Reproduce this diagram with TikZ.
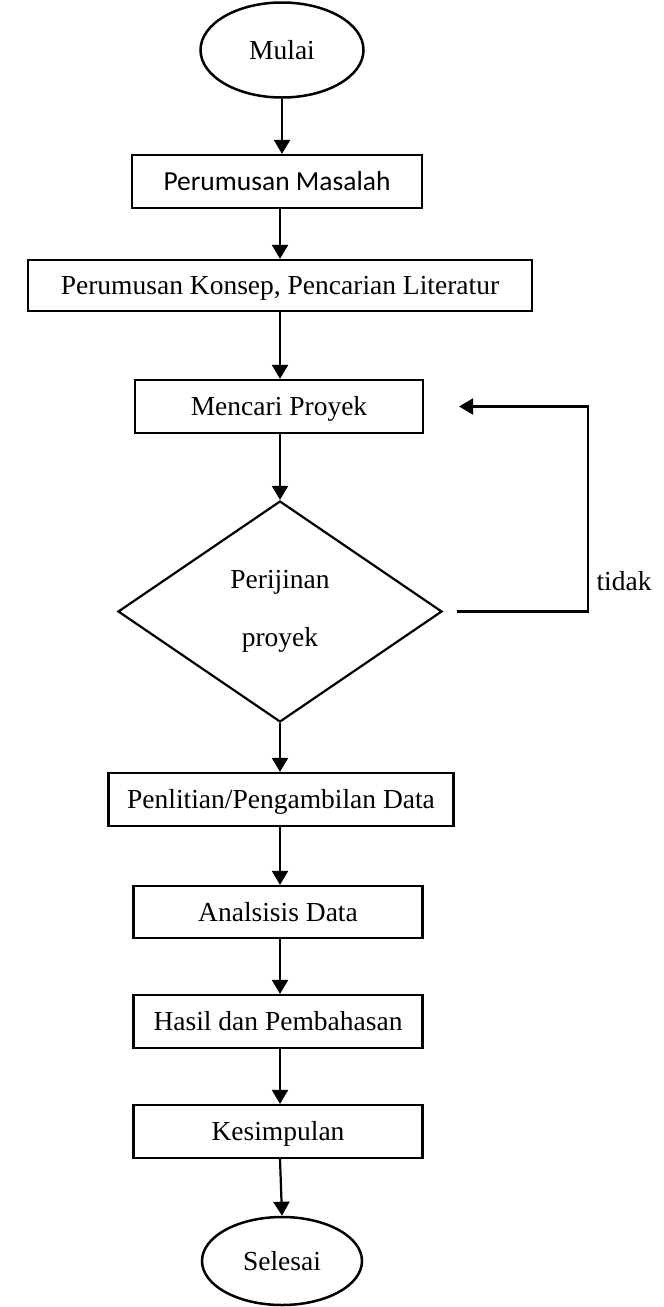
\documentclass[tikz,border=0pt]{standalone}
\usepackage{fontspec}
\setmainfont{Liberation Serif}
\newfontfamily\sansbox{Carlito}
\usetikzlibrary{shapes.geometric,arrows.meta}
\begin{document}
\begin{tikzpicture}[x=1pt,y=-1pt,
  lbl/.style={font=\fontsize{27.5}{33}\selectfont},
  box/.style={lbl, draw, line width=2.2pt, minimum height=53pt, inner sep=0pt,
              text height=18pt, text depth=0pt},
  term/.style={lbl, draw, ellipse, line width=2.5pt, inner sep=0pt,
               text height=18pt, text depth=0pt},
  decision/.style={draw, diamond, line width=2.2pt, inner sep=0pt, align=center,
                   font=\fontsize{27.5}{58}\selectfont},
  arr/.style={line width=2.2pt, -{Triangle[length=14pt,width=16pt]}}
]
\useasboundingbox (0,0) rectangle (664,1307);

% process steps
\node[term, minimum width=163pt, minimum height=95pt] (m) at (282,50) {Mulai};
\node[box, minimum width=290pt, font=\sansbox\fontsize{27.5}{33}\selectfont] (pm) at (277,181.5) {Perumusan Masalah};
\node[box, minimum width=504pt, minimum height=51pt] (pk) at (280,285.5) {Perumusan Konsep, Pencarian Literatur};
\node[box, minimum width=288pt] (mp) at (279,406.5) {Mencari Proyek};
\node[decision, minimum width=324pt, minimum height=221pt] (pp) at (280,611.5) {Perijinan\\proyek};
\node[box, minimum width=345pt] (pd) at (281,799.5) {Penlitian/Pengambilan Data};
\node[box, minimum width=289pt, minimum height=52pt] (ad) at (278,912) {Analsisis Data};
\node[box, minimum width=289pt] (hp) at (278,1021.5) {Hasil dan Pembahasan};
\node[box, minimum width=289pt] (ks) at (278,1131.5) {Kesimpulan};
\node[term, minimum width=160pt, minimum height=88pt] (sl) at (282,1261) {Selesai};

% loop label
\node[lbl, anchor=west] (td) at (593,581) {tidak};

% main flow
\draw[arr] (m.south) -- (m.south |- pm.north);
\draw[arr] (pk.north |- pm.south) -- (pk.north);
\draw[arr] (pk.south) -- (pk.south |- mp.north);
\draw[arr] (pk.south |- mp.south) -- (pp.north);
\draw[arr] (pp.south) -- (pp.south |- pd.north);
\draw[arr] (pp.south |- pd.south) -- (pp.south |- ad.north);
\draw[arr] (pp.south |- ad.south) -- (pp.south |- hp.north);
\draw[arr] (pp.south |- hp.south) -- (pp.south |- ks.north);
\draw[arr] (pp.south |- ks.south) -- (sl.north);

% return branch
\coordinate (lc) at (588,0);
\draw[arr] ([xshift=14pt]pp.east) -- (lc |- pp.east) -- (lc |- mp.east) -- ([xshift=35pt]mp.east);
\end{tikzpicture}
\end{document}
